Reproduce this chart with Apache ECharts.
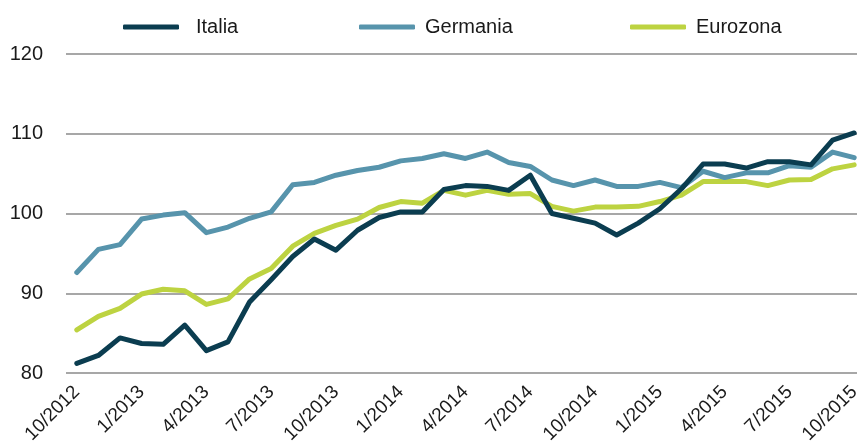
<!DOCTYPE html>
<html>
<head>
<meta charset="utf-8">
<script src="https://cdn.jsdelivr.net/npm/echarts@6/dist/echarts.min.js"></script>
<style>
html,body{margin:0;padding:0;background:#fff;}
#chart{width:857px;height:448px;}
</style>
</head>
<body>
<div id="chart"></div>
<script>
const categories = (function(){
  const out = [];
  let m = 10, y = 2012;
  for (let i = 0; i < 37; i++) {
    out.push(m + '/' + y);
    m++; if (m > 12) { m = 1; y++; }
  }
  return out;
})();

const italia = [81.2, 82.2, 84.4, 83.7, 83.6, 86.0, 82.8, 83.9, 88.9, 91.7, 94.6, 96.8, 95.4, 97.9, 99.5, 100.2, 100.2, 103.0, 103.5, 103.4, 102.9, 104.8, 100.0, 99.4, 98.8, 97.3, 98.8, 100.6, 103.1, 106.2, 106.2, 105.7, 106.5, 106.5, 106.1, 109.2, 110.1];
const germania = [92.6, 95.5, 96.1, 99.3, 99.8, 100.1, 97.6, 98.3, 99.4, 100.2, 103.6, 103.9, 104.8, 105.4, 105.8, 106.6, 106.9, 107.5, 106.9, 107.7, 106.4, 105.9, 104.2, 103.5, 104.2, 103.4, 103.4, 103.9, 103.25, 105.3, 104.5, 105.1, 105.1, 106.0, 105.8, 107.7, 107.0];
const eurozona = [85.4, 87.1, 88.1, 89.9, 90.5, 90.3, 88.6, 89.3, 91.8, 93.1, 95.9, 97.5, 98.5, 99.3, 100.75, 101.5, 101.3, 102.9, 102.3, 102.9, 102.4, 102.5, 100.9, 100.3, 100.8, 100.8, 100.9, 101.5, 102.3, 104.0, 104.0, 104.0, 103.5, 104.2, 104.25, 105.6, 106.1];
const seriesNames = ['Italia', 'Germania', 'Eurozona'];
const yTicks = [80, 90, 100, 110, 120];

const colors = { 'Italia': '#0b3d50', 'Germania': '#5794ac', 'Eurozona': '#bdd341' };
const FONT = '"Liberation Sans", Arial, sans-serif';

const chart = echarts.init(document.getElementById('chart'), null, { renderer: 'canvas' });

function legendFor(name, left, pad) {
  return {
    data: [name], left: left, top: 12,
    icon: 'roundRect', itemWidth: 56, itemHeight: 5, itemGap: 0,
    textStyle: { fontFamily: FONT, fontSize: 20, color: '#1a1a1a', padding: [0, 0, 0, pad] },
    selectedMode: false
  };
}

chart.setOption({
  animation: false,
  backgroundColor: '#ffffff',
  legend: [legendFor('Italia', 118, 12), legendFor('Germania', 354, 5), legendFor('Eurozona', 625, 5)],
  grid: { left: 66, right: -8, top: 54, bottom: 75, containLabel: false, outerBoundsMode: 'none' },
  xAxis: {
    type: 'category',
    data: categories,
    boundaryGap: true,
    axisLine: { show: false },
    axisTick: { show: false },
    axisLabel: {
      interval: 2, rotate: 45, margin: 16,
      fontFamily: FONT, fontSize: 19, color: '#1a1a1a'
    },
    splitLine: { show: false }
  },
  yAxis: {
    type: 'value',
    min: yTicks[0], max: yTicks[yTicks.length - 1], interval: 10,
    axisLine: { show: false },
    axisTick: { show: false },
    axisLabel: { margin: 23, fontFamily: FONT, fontSize: 20, color: '#1a1a1a' },
    splitLine: { show: true, lineStyle: { color: '#8a8a8a', width: 1.5 } }
  },
  series: [
    { name: 'Eurozona', data: eurozona },
    { name: 'Germania', data: germania },
    { name: 'Italia', data: italia }
  ].map(s => ({
    name: s.name, type: 'line', data: s.data,
    showSymbol: false, symbol: 'none',
    color: colors[s.name],
    lineStyle: { color: colors[s.name], width: 5, cap: 'round', join: 'round' },
    itemStyle: { color: colors[s.name] }
  }))
});
</script>
</body>
</html>
